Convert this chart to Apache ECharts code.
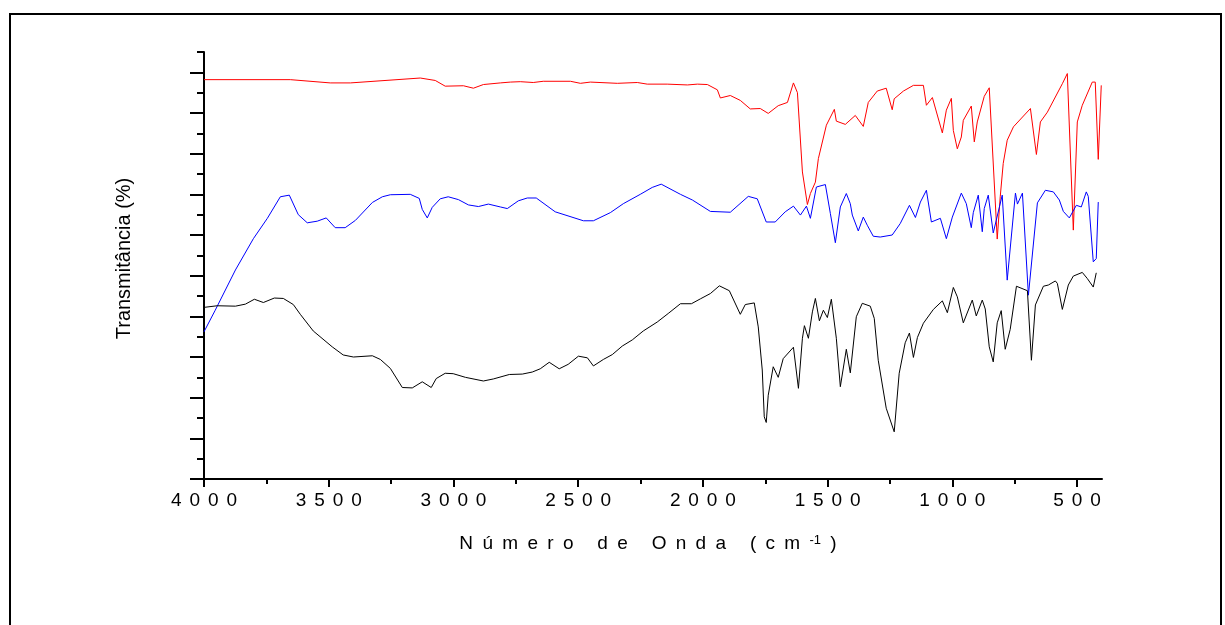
<!DOCTYPE html>
<html>
<head>
<meta charset="utf-8">
<title>FTIR</title>
<script src="https://cdn.jsdelivr.net/npm/echarts@6/dist/echarts.min.js"></script>
<style>
  html, body { margin: 0; padding: 0; background: #fff; }
  #chart { width: 1225px; height: 625px; }
</style>
</head>
<body>
<div id="chart"></div>
<script>
// tick positions (cm-1 and transmittance)
const xMajorTicks = [4000, 3500, 3000, 2500, 2000, 1500, 1000, 500]
const xMinorTicks = [3750, 3250, 2750, 2250, 1750, 1250, 750]
const yMajorTicks = [0, 10, 20, 30, 40, 50, 60, 70, 80, 90, 100]
const yMinorTicks = [5, 15, 25, 35, 45, 55, 65, 75, 85, 95, 105]

// red spectrum
const redWn = [4000, 3654, 3494, 3413, 3133, 3073, 3033, 2960, 2920, 2880, 2812, 2772, 2732, 2680, 2640, 2531, 2491, 2451, 2343, 2263, 2223, 2143, 2062, 2022, 1982, 1942, 1930, 1890, 1850, 1810, 1770, 1738, 1698, 1661, 1637, 1621, 1601, 1581, 1569, 1549, 1537, 1505, 1473, 1465, 1429, 1389, 1357, 1337, 1301, 1265, 1241, 1233, 1196, 1156, 1116, 1104, 1080, 1040, 1024, 1004, 996, 980, 964, 956, 924, 912, 900, 872, 852, 820, 808, 796, 780, 755, 687, 663, 647, 619, 559, 539, 515, 499, 479, 439, 427, 415, 403]
const redT = [98.2, 98.2, 97.4, 97.4, 98.6, 98.0, 96.6, 96.7, 96.1, 97.0, 97.4, 97.6, 97.7, 97.5, 97.8, 97.8, 97.3, 97.6, 97.3, 97.5, 97.1, 97.1, 96.9, 97.1, 97.0, 95.7, 93.7, 94.3, 93.1, 91.0, 91.1, 89.9, 91.8, 92.6, 97.4, 95.0, 75.5, 67.5, 70.2, 73.0, 78.8, 87.0, 90.9, 88.0, 87.2, 89.4, 86.7, 92.6, 95.4, 96.1, 90.8, 93.5, 95.4, 96.8, 96.8, 91.9, 93.8, 85.1, 90.7, 93.6, 85.7, 81.2, 84.1, 88.2, 91.7, 82.9, 87.8, 94.1, 96.2, 59.0, 69.4, 77.6, 83.3, 86.6, 91.1, 79.8, 87.8, 90.2, 97.2, 99.7, 61.2, 87.8, 91.9, 97.6, 97.6, 78.6, 96.8]

// blue spectrum
const blueWn = [4000, 3955, 3874, 3802, 3746, 3694, 3658, 3622, 3586, 3546, 3510, 3474, 3434, 3393, 3325, 3285, 3253, 3173, 3137, 3125, 3105, 3085, 3053, 3021, 2980, 2940, 2900, 2860, 2812, 2784, 2740, 2704, 2668, 2592, 2479, 2439, 2371, 2319, 2251, 2203, 2167, 2090, 2042, 1970, 1890, 1818, 1782, 1746, 1710, 1670, 1637, 1609, 1585, 1569, 1545, 1509, 1489, 1469, 1449, 1425, 1409, 1401, 1377, 1357, 1341, 1317, 1289, 1241, 1209, 1172, 1148, 1128, 1104, 1084, 1048, 1024, 1000, 964, 944, 924, 916, 896, 880, 872, 856, 836, 800, 780, 747, 739, 719, 695, 659, 627, 595, 571, 555, 547, 531, 503, 483, 463, 455, 435, 423, 415]
const blueT = [36.2, 41.5, 51.4, 59.1, 64.1, 69.4, 69.8, 65.0, 63.0, 63.4, 64.2, 61.8, 61.8, 63.6, 68.0, 69.4, 69.9, 70.0, 69.0, 66.3, 64.2, 66.8, 68.9, 69.4, 68.7, 67.4, 67.0, 67.6, 66.9, 66.5, 68.4, 69.1, 69.1, 65.7, 63.5, 63.5, 65.5, 67.7, 70.0, 71.7, 72.5, 70.0, 68.6, 65.8, 65.6, 69.5, 68.9, 63.2, 63.2, 65.7, 67.1, 64.9, 67.1, 64.1, 71.8, 72.4, 65.3, 58.1, 66.9, 70.2, 67.7, 64.9, 61.0, 64.4, 62.4, 59.7, 59.5, 60.0, 62.8, 67.3, 64.3, 68.1, 71.0, 63.2, 64.1, 59.1, 64.4, 70.3, 67.7, 61.8, 65.5, 69.8, 60.8, 66.5, 69.8, 60.5, 69.8, 48.9, 70.3, 67.6, 70.3, 45.2, 67.9, 71.0, 70.6, 68.6, 65.8, 65.7, 64.2, 67.3, 66.9, 70.6, 69.5, 53.4, 54.2, 68.1]

// black spectrum
const blackWn = [4000, 3947, 3874, 3834, 3798, 3762, 3718, 3682, 3642, 3614, 3562, 3486, 3442, 3401, 3325, 3293, 3253, 3205, 3165, 3125, 3089, 3069, 3033, 3001, 2952, 2880, 2840, 2776, 2724, 2684, 2652, 2616, 2576, 2540, 2499, 2463, 2439, 2399, 2363, 2323, 2283, 2239, 2183, 2139, 2090, 2046, 2010, 1970, 1934, 1894, 1850, 1830, 1794, 1778, 1762, 1754, 1746, 1738, 1718, 1698, 1678, 1637, 1617, 1601, 1593, 1577, 1561, 1549, 1533, 1517, 1501, 1485, 1465, 1449, 1425, 1409, 1385, 1361, 1329, 1313, 1297, 1265, 1233, 1213, 1189, 1172, 1156, 1140, 1116, 1076, 1040, 1020, 996, 980, 956, 920, 904, 880, 868, 852, 836, 820, 804, 788, 768, 743, 699, 683, 667, 635, 615, 587, 579, 559, 535, 515, 479, 459, 451, 435, 423]
const blackT = [42.2, 42.6, 42.5, 43.0, 44.2, 43.4, 44.5, 44.4, 42.9, 40.5, 36.4, 32.5, 30.5, 30.0, 30.3, 29.4, 27.2, 22.5, 22.4, 23.9, 22.5, 24.7, 26.0, 25.9, 25.0, 24.1, 24.6, 25.7, 25.8, 26.3, 27.1, 28.7, 27.1, 28.2, 30.2, 29.8, 27.8, 29.4, 30.6, 32.7, 34.2, 36.4, 38.6, 40.7, 43.1, 43.1, 44.3, 45.6, 47.5, 46.3, 40.5, 42.9, 43.3, 37.4, 26.8, 15.3, 13.9, 20.6, 27.6, 25.0, 29.6, 32.4, 22.3, 34.6, 37.7, 34.6, 41.1, 44.4, 38.9, 41.5, 39.7, 44.2, 34.6, 22.7, 31.9, 26.1, 39.9, 43.2, 42.5, 39.5, 29.2, 17.4, 11.6, 26.0, 33.5, 35.9, 29.9, 34.8, 38.3, 41.7, 43.8, 40.9, 47.1, 44.8, 38.4, 44.0, 40.1, 44.0, 41.8, 32.5, 28.8, 38.4, 41.4, 31.9, 36.8, 47.4, 46.3, 29.2, 42.8, 47.4, 47.7, 48.7, 48.1, 41.7, 47.7, 49.9, 50.8, 49.3, 49.7, 47.2, 50.7]

const font = '"Liberation Sans", Arial, sans-serif'

function pairs(xs, ys) {
  return xs.map((x, i) => [x, ys[i]])
}

// the original spreads every character apart
function spaced(str) {
  return str.split('').join('{g| }')
}

const chart = echarts.init(document.getElementById('chart'))

const baseX = {
  type: 'value',
  position: 'bottom',
  min: 400,
  max: 4000,
  inverse: true,
  splitLine: { show: false }
}
const baseY = {
  type: 'value',
  position: 'left',
  min: 0,
  max: 105,
  splitLine: { show: false },
  axisLabel: { show: false }
}

chart.setOption({
  animation: false,
  backgroundColor: '#fff',
  grid: {
    left: 204,
    right: 123,
    top: 52,
    bottom: 146,
    containLabel: false,
    outerBoundsMode: 'none'
  },
  graphic: [
    {
      type: 'rect',
      shape: { x: 10, y: 14, width: 1211, height: 630 },
      style: { fill: 'none', stroke: '#000', lineWidth: 2 }
    }
  ],
  xAxis: [
    {
      ...baseX,
      axisLine: { show: true, onZero: false, lineStyle: { color: '#000', width: 2 } },
      axisTick: { show: true, customValues: xMajorTicks, length: 8, lineStyle: { color: '#000', width: 2 } },
      axisLabel: {
        customValues: xMajorTicks,
        margin: 12,
        color: '#000',
        fontFamily: font,
        fontSize: 19,
        formatter: v => spaced(String(v)),
        rich: { g: { width: 7.9, fontSize: 19, fontFamily: font } }
      },
      name: spaced('Número de Onda (cm') + '{g| }{sup|-1}{g| })',
      nameLocation: 'middle',
      nameGap: 55,
      nameTextStyle: {
        color: '#000',
        fontFamily: font,
        fontSize: 19,
        padding: [0, 10, 0, 0],
        rich: {
          g: { width: 9.3, fontSize: 19, fontFamily: font },
          sup: { fontSize: 13, fontFamily: font, verticalAlign: 'top', padding: [0, 0, 5, 0] }
        }
      }
    },
    {
      ...baseX,
      axisLine: { show: false },
      axisTick: { show: true, customValues: xMinorTicks, length: 5, lineStyle: { color: '#000', width: 2 } },
      axisLabel: { show: false }
    }
  ],
  yAxis: [
    {
      ...baseY,
      axisLine: { show: true, onZero: false, lineStyle: { color: '#000', width: 2 } },
      axisTick: { show: true, customValues: yMajorTicks, length: 14, lineStyle: { color: '#000', width: 2 } },
      name: 'Transmitância (%)',
      nameLocation: 'middle',
      nameGap: 70,
      nameTextStyle: { color: '#000', fontFamily: font, fontSize: 20, padding: [0, 0, 0, 14] }
    },
    {
      ...baseY,
      axisLine: { show: false },
      axisTick: { show: true, customValues: yMinorTicks, length: 7, lineStyle: { color: '#000', width: 2 } }
    }
  ],
  series: [
    {
      name: 'red',
      type: 'line',
      data: pairs(redWn, redT),
      showSymbol: false,
      lineStyle: { color: '#ff0000', width: 1 }
    },
    {
      name: 'blue',
      type: 'line',
      data: pairs(blueWn, blueT),
      showSymbol: false,
      lineStyle: { color: '#0000ff', width: 1 }
    },
    {
      name: 'black',
      type: 'line',
      data: pairs(blackWn, blackT),
      showSymbol: false,
      lineStyle: { color: '#000000', width: 1 }
    }
  ]
})
</script>
</body>
</html>
